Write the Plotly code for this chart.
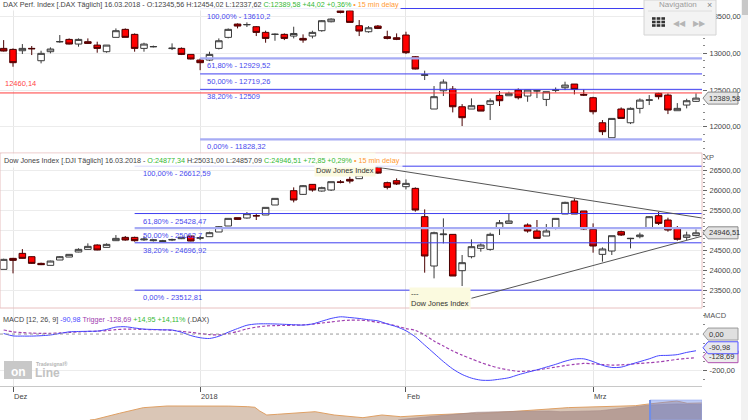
import pandas as pd
import plotly.graph_objects as go

# ---------------- data ----------------
holidays = ["2017-12-25", "2018-01-01"]
dates = [d.strftime("%Y-%m-%d") for d in pd.bdate_range("2017-11-30", "2018-03-16")]
dates = [d for d in dates if d not in holidays]

dax_open = [13067, 13053, 13035, 13067, 12899, 13022, 13155, 13189, 13126, 13158, 13112, 13022, 13217, 13326, 13258,
            13067, 13088, None, 13064, 13067, 12985, 12908, 12908, 13067, 13217, 13398, 13388, 13362, 13285, 13256,
            13258, 13235, 13203, 13235, 13308, 13430, 13580, 13580, 13376, 13294, 13371, 13226, 13212, 13249, 12953,
            12700, 12241, 12490, 12513, 12272, 12241, 12291, 12304, 12427, 12422, 12499, 12418, 12486, 12372, 12497,
            12531, 12581, 12440, 12395, 12054, 11850, 12241, 12054, 12250, 12360, 12454, 12431, 12218, 12295, 12345.56]
dax_high = [13180, 13067, 13126, 13099, 13035, 13081, 13249, 13203, 13203, 13203, 13158, 13112, 13339, 13339, 13271,
            13144, 13105, None, 13135, 13080, 12985, 12930, 13022, 13203, 13339, 13407, 13421, 13371, 13308, 13271,
            13271, 13362, 13258, 13308, 13453, 13476, 13598, 13598, 13453, 13371, 13385, 13308, 13271, 13294, 12962,
            12763, 12554, 12645, 12554, 12308, 12386, 12291, 12386, 12486, 12477, 12522, 12499, 12499, 12477, 12535,
            12613, 12581, 12508, 12408, 12091, 12113, 12263, 12263, 12386, 12431, 12463, 12454, 12322, 12381, 12454.02]
dax_low = [13025, 12817, 12990, 12976, 12863, 12999, 13144, 13121, 13090, 13130, 13008, 13008, 13217, 13217, 13022,
           13022, 13080, None, 13044, 12976, 12917, 12770, 12894, 13053, 13203, 13339, 13358, 13235, 13144, 13171,
           13180, 13203, 13144, 13203, 13294, 13421, 13544, 13421, 13235, 13280, 13330, 13190, 13180, 12990, 12781,
           12636, 12241, 12418, 12195, 12009, 12241, 12213, 12091, 12282, 12422, 12372, 12340, 12390, 12281, 12468,
           12499, 12440, 12418, 12168, 11886, 11850, 12113, 12036, 12181, 12295, 12372, 12172, 12218, 12250, 12337.62]
dax_close = [13031, 12872, 13067, 13062, 12999, 13058, 13160, 13126, 13189, 13135, 13067, 13112, 13308, 13217, 13067,
             13126, 13092, None, 13070, 12985, 12922, 12872, 12985, 13171, 13326, 13371, 13392, 13285, 13203, 13260,
             13203, 13270, 13180, 13285, 13444, 13466, 13557, 13421, 13303, 13348, 13339, 13203, 13190, 13008, 12786,
             12708, 12409, 12608, 12272, 12123, 12286, 12213, 12354, 12354, 12454, 12395, 12499, 12490, 12477, 12501,
             12567, 12508, 12431, 12204, 11932, 12113, 12113, 12250, 12363, 12365, 12409, 12227, 12250, 12354, 12389.58]

dow_open = [24033, 24308, 24433, 24350, 24183, 24133, 24267, 24341, 24467, 24533, 24642, 24583, 24750, 24833, 24833,
            24770, 24750, 24730, 24765, 24800, 24867, 24810, 24850, 24967, 25117, 25325, 25317, 25375, 25392, 25642,
            None, 26000, 25908, 26158, 25992, 26017, 26220, 26283, 26300, 26400, 26584, 26200, 26250, 26100, 26058,
            25350, 24117, 24900, 24908, 24000, 24350, 24558, 24533, 25058, 25183, None, 25142, 24992, 24867, 25058,
            25417, 25742, 25492, 25033, 24408, 24492, 24975, 24800, 24850, 25058, 25375, 25267, 25075, 24833, 24877.34]
dow_high = [24300, 24320, 24540, 24358, 24200, 24250, 24367, 24410, 24560, 24683, 24658, 24683, 24890, 24867, 24850,
            24860, 24790, 24770, 24800, 24840, 24870, 24867, 24975, 25117, 25308, 25325, 25467, 25433, 25583, 25808,
            None, 26083, 26142, 26167, 26100, 26225, 26267, 26350, 26460, 26617, 26608, 26225, 26308, 26283, 26083,
            25533, 24975, 25308, 24908, 24392, 24783, 24683, 24950, 25267, 25433, None, 25183, 25267, 25167, 25308,
            25725, 25808, 25492, 25183, 24583, 24875, 25000, 24820, 24950, 25367, 25467, 25325, 25117, 24975, 25031.00]
dow_low = [24033, 23933, 24300, 24170, 24140, 24133, 24267, 24341, 24460, 24530, 24510, 24580, 24745, 24750, 24725,
           24745, 24730, 24720, 24740, 24790, 24735, 24765, 24850, 24967, 25117, 25280, 25300, 25267, 25392, 25642,
           None, 25708, 25892, 25975, 25975, 25992, 26183, 26183, 26290, 26390, 26420, 26033, 26142, 26033, 25475,
           23950, 23808, 24683, 23867, 23617, 24308, 24475, 24500, 24892, 25183, None, 24950, 24808, 24867, 25033,
           25417, 25417, 25017, 24450, 24225, 24392, 24867, 24558, 24808, 25058, 25142, 24975, 24750, 24767, 24857.09]
dow_close = [24283, 24258, 24308, 24183, 24150, 24241, 24350, 24408, 24533, 24608, 24517, 24658, 24808, 24767, 24750,
             24790, 24770, 24746, 24780, 24837, 24742, 24825, 24950, 25100, 25308, 25283, 25425, 25370, 25583, 25808,
             None, 25767, 26125, 26017, 26075, 26225, 26210, 26240, 26392, 26610, 26439, 26083, 26167, 26183, 25517,
             24367, 24950, 24915, 23867, 24200, 24600, 24642, 24908, 25200, 25242, None, 24992, 24808, 24992, 25308,
             25708, 25417, 25042, 24617, 24542, 24875, 24892, 24808, 24892, 25350, 25183, 25017, 24783, 24892, 24946.51]

macd_line = [3, -10, -11, -11, -9, -5, 3, 12, 14, 15, 16, 25, 38, 40, 33, 27, 25, 23, 22, 10, -8, -20, -24, -12, 10,
             30, 48, 55, 56, 55, 53, 51, 49, 55, 70, 85, 94, 90, 85, 78, 72, 55, 40, 18, -15, -60, -105, -150, -190,
             -220, -240, -251, -252, -246, -238, -222, -208, -195, -180, -165, -148, -136, -135, -150, -170, -182,
             -180, -165, -150, -135, -118, -116, -112, -100, -90.98]
macd_trigger = [22, 12, 8, 5, 4, 4, 6, 9, 12, 14, 16, 19, 24, 27, 27, 25, 24, 23, 20, 15, 9, 3, -3, -4, 3, 14, 28,
                38, 44, 46, 47, 48, 50, 54, 60, 66, 72, 76, 76, 72, 64, 56, 44, 30, 20, -5, -38, -65, -92, -115,
                -135, -155, -172, -186, -196, -203, -202, -196, -188, -180, -172, -165, -160, -162, -166, -169, -168,
                -164, -160, -156, -152, -145, -138, -133, -128.69]

dax_fib_pct = ["100,00%", "61,80%", "50,00%", "38,20%", "0,00%"]
dax_fib_val = [13610.2, 12929.52, 12719.26, 12509, 11828.32]
dax_fib_txt = ["13610,2", "12929,52", "12719,26", "12509", "11828,32"]
dax_fib_soft = [False, True, False, False, True]
dax_fib_start = "2018-01-02"
dow_fib_pct = ["100,00%", "61,80%", "50,00%", "38,20%", "0,00%"]
dow_fib_val = [26612.59, 25428.47, 25062.7, 24696.92, 23512.81]
dow_fib_txt = ["26612,59", "25428,47", "25062,7", "24696,92", "23512,81"]
dow_fib_soft = [False, False, True, False, False]
dow_fib_start = "2017-12-20"
dax_ref_level = 12460.14

dow_trend_down = [("2018-01-29", 26584), ("2018-03-16", 25340)]
dow_trend_up = [("2018-02-12", 23310), ("2018-03-16", 24822)]

month_dates = ["2017-12-01", "2018-01-02", "2018-02-01", "2018-03-01"]
month_labels = ["Dez", "2018", "Feb", "Mrz"]
dax_ticks = [12000, 12500, 13000, 13500]
dow_ticks = [23500, 24000, 24500, 25000, 25500, 26000, 26500]
dow_hidden_tick = 25000          # covered by the last-price marker
macd_ticks = [-200]

dax_change = ["+44,02", "+0,36%"]
dow_change = ["+72,85", "+0,29%"]
macd_change = ["+14,95", "+14,11%"]

nav_pos = [12.8, 13.5, 17.0, 20.4, 23.8, 28.5, 32.6, 35.3, 36.3, 37.0, 38.0, 39.5, 43.4, 44.9, 47.6, 51.7, 54.4,
           57.1, 61.1, 67.2, 67.9, 72.0, 78.2, 81.0, 84.9, 88.3, 90.5, 92.4, 94.0, 96.4, 97.9, 99.6, 100.0]
nav_dax = [0, 0.5, 6.7, 12.3, 14.0, 14.3, 13.9, 13.3, 12.7, 9.0, 5.0, 5.7, 7.7, 8.3, 5.0, 2.3, 5.0, 3.3, 5.0, 6.7,
           6.0, 7.7, 11.0, 12.4, 13.3, 13.8, 14.3, 16.0, 17.3, 19.0, 16.7, 17.3, 17.0]
nav_pos2 = [56.7, 57.1, 61.1, 67.9, 72.5, 78.2, 79.8, 85.5, 88.3, 92.6, 96.4, 99.6, 100.0]
nav_dark = [0, 0.5, 3.3, 7.7, 8.5, 9.0, 8.3, 9.3, 11.5, 15.0, 16.0, 16.0, 15.5]
nav_window = [92.6, 100.0]

# ---------------- helpers ----------------
W, H = 748, 420
XD = 702 / W
X_LO, X_HI = -0.39, 74.64
pos = {d: i for i, d in enumerate(dates)}
xi = list(range(len(dates)))


def PX(p):
    return p / W


def PY(p):
    return 1 - p / H


def de(v, nd=2):
    return f"{v:.{nd}f}".replace(".", ",")


FONT = "Liberation Sans, Arial, sans-serif"
BLUE = "#3f3ff0"
SOFT_BLUE = "#a7acf4"
GREEN = "#33b833"
ORANGE = "#ff9933"
GREY = "#444444"

fig = go.Figure()


def add_candles(o, h, l, c, xa, ya):
    keep = [i for i in range(len(o)) if o[i] is not None]
    fig.add_trace(go.Candlestick(
        x=[xi[i] for i in keep], open=[o[i] for i in keep], high=[h[i] for i in keep],
        low=[l[i] for i in keep], close=[c[i] for i in keep],
        increasing=dict(line=dict(color="#3a3a3a", width=1), fillcolor="#ffffff"),
        decreasing=dict(line=dict(color="#4a0000", width=1), fillcolor="#ff0000"),
        whiskerwidth=0, xaxis=xa, yaxis=ya, showlegend=False, hoverinfo="skip"))


add_candles(dax_open, dax_high, dax_low, dax_close, "x", "y")
add_candles(dow_open, dow_high, dow_low, dow_close, "x2", "y2")

fig.add_trace(go.Scatter(x=xi, y=macd_trigger, mode="lines", xaxis="x3", yaxis="y3",
                         line=dict(color="#a040b0", width=1.2, dash="3px,2px", shape="spline", smoothing=0.8),
                         showlegend=False, hoverinfo="skip"))
fig.add_trace(go.Scatter(x=xi, y=macd_line, mode="lines", xaxis="x3", yaxis="y3",
                         line=dict(color="#4646ff", width=1, shape="spline", smoothing=0.8),
                         showlegend=False, hoverinfo="skip"))

fig.add_trace(go.Scatter(x=nav_pos, y=nav_dax, mode="lines", fill="tozeroy", xaxis="x4", yaxis="y4",
                         line=dict(color="#dfa064", width=1), fillcolor="rgba(214,192,174,0.9)",
                         showlegend=False, hoverinfo="skip"))
fig.add_trace(go.Scatter(x=nav_pos2, y=nav_dark, mode="lines", fill="tozeroy", xaxis="x4", yaxis="y4",
                         line=dict(color="#a88c88", width=0.6), fillcolor="rgba(176,150,144,0.85)",
                         showlegend=False, hoverinfo="skip"))

tickpos = [pos[d] for d in month_dates]
xcommon = dict(range=[X_LO, X_HI], domain=[0, XD], showgrid=True, gridcolor="#e6e6e6", gridwidth=1,
               tickmode="array", tickvals=tickpos, showticklabels=False, zeroline=False,
               rangeslider=dict(visible=False), fixedrange=True)
ycommon = dict(side="right", showgrid=True, gridcolor="#ececec", zeroline=False, ticks="outside", ticklen=4,
               tickcolor="#666", tickfont=dict(size=7.5, color=GREY, family=FONT), tickmode="array",
               ticklabelstandoff=1, fixedrange=True)

fig.update_layout(
    width=W, height=H, margin=dict(l=0, r=0, t=0, b=0), paper_bgcolor="white", plot_bgcolor="white",
    font=dict(family=FONT, size=8, color=GREY), showlegend=False, boxgap=0.3, boxgroupgap=0,
    xaxis=dict(**xcommon, anchor="y"),
    xaxis2=dict(**xcommon, anchor="y2", matches="x"),
    xaxis3=dict(**{**xcommon, "ticks": "outside", "ticklen": 5, "tickcolor": "#555"}, anchor="y3", matches="x",
                showline=True, linecolor="#c8c8c8"),
    xaxis4=dict(domain=[0, XD], range=[0, 100], anchor="y4", visible=False, fixedrange=True),
    yaxis=dict(**ycommon, domain=[PY(153), 1], range=[11642, 13726], anchor="x", tickvals=dax_ticks,
               ticktext=[de(v) for v in dax_ticks],
               minor=dict(ticks="outside", ticklen=2, tickcolor="#888", tickmode="linear", tick0=0, dtick=100,
                          showgrid=False)),
    yaxis2=dict(**ycommon, domain=[PY(308), PY(153)], range=[23067, 26942], anchor="x2", tickvals=dow_ticks,
                ticktext=["" if v == dow_hidden_tick else de(v) for v in dow_ticks],
                minor=dict(ticks="outside", ticklen=2, tickcolor="#888", tickmode="linear", tick0=0, dtick=100,
                           showgrid=False)),
    yaxis3=dict(**ycommon, domain=[PY(386), PY(308)], range=[-283, 142], anchor="x3", tickvals=macd_ticks,
                ticktext=[de(v) for v in macd_ticks],
                minor=dict(ticks="outside", ticklen=2, tickcolor="#888", tickmode="linear", tick0=0, dtick=50,
                           showgrid=False)),
    yaxis4=dict(domain=[0, 20 / H], range=[0, 20], anchor="x4", visible=False, fixedrange=True),
)

shapes = []
ann = []


def A(text, x, y, xref="paper", yref="paper", xa="left", ya="middle", size=7.5, color=GREY, **kw):
    d = dict(text=text, x=x, y=y, xref=xref, yref=yref, xanchor=xa, yanchor=ya, showarrow=False,
             font=dict(size=size, color=color, family=FONT))
    d.update(kw)
    ann.append(d)


# reference line DAX
shapes.append(dict(type="line", xref="x", yref="y", x0=X_LO, x1=X_HI, y0=dax_ref_level, y1=dax_ref_level,
                   line=dict(color="#ff3b3b", width=1)))
A(de(dax_ref_level), PX(3), dax_ref_level, yref="y", ya="bottom", color="#ff4545", yshift=3)

# Fibonacci lines
for pct, v, t, soft in zip(dax_fib_pct, dax_fib_val, dax_fib_txt, dax_fib_soft):
    shapes.append(dict(type="line", xref="x", yref="y", x0=pos[dax_fib_start], x1=X_HI, y0=v, y1=v,
                       line=dict(color=SOFT_BLUE if soft else BLUE, width=2.2 if soft else 1)))
    A(f"{pct} - {t}", pos[dax_fib_start], v, xref="x", yref="y", ya="top", color="#4848ee", xshift=5, yshift=-1)
for pct, v, t, soft in zip(dow_fib_pct, dow_fib_val, dow_fib_txt, dow_fib_soft):
    shapes.append(dict(type="line", xref="x2", yref="y2", x0=pos[dow_fib_start], x1=X_HI, y0=v, y1=v,
                       line=dict(color=SOFT_BLUE if soft else BLUE, width=2.2 if soft else 1)))
    A(f"{pct} - {t}", pos[dow_fib_start], v, xref="x2", yref="y2", ya="top", color="#4848ee", xshift=6, yshift=-1)

# trend lines
for (d0, v0), (d1, v1) in (dow_trend_down, dow_trend_up):
    x0, x1 = pos[d0], pos[d1]
    yend = v0 + (v1 - v0) * (X_HI - x0) / (x1 - x0)
    shapes.append(dict(type="line", xref="x2", yref="y2", x0=x0, x1=X_HI, y0=v0, y1=yend,
                       line=dict(color="#555555", width=1)))
A("Dow Jones Index", pos[dow_trend_down[0][0]], dow_trend_down[0][1], xref="x2", yref="y2", xa="right",
  ya="middle", align="left", valign="bottom", height=21, bgcolor="#fbfadf", yshift=3, xshift=-2, color="#333")
A("---<br>Dow Jones Index", pos[dow_trend_up[0][0]], dow_trend_up[0][1], xref="x2", yref="y2", xa="right",
  ya="middle", align="left", bgcolor="#fbfadf", color="#333")

# MACD zero line
shapes.append(dict(type="line", xref="x3", yref="y3", x0=X_LO, x1=X_HI, y0=0, y1=0,
                   line=dict(color="#999999", width=1, dash="dot")))

# Dow panel frame
shapes.append(dict(type="rect", xref="paper", yref="paper", x0=0, x1=XD, y0=PY(308), y1=PY(153),
                   line=dict(color="#e8c0c0", width=1), layer="above"))

# headers
dax_hdr = (f"DAX Perf. Index [.DAX Täglich] 16.03.2018 - O:{de(dax_open[-1])} H:{de(dax_high[-1])} "
           f"L:{de(dax_low[-1])} <span style='color:{GREEN}'>C:{de(dax_close[-1])} {dax_change[0]} {dax_change[1]}</span>"
           f" <span style='color:{ORANGE}'>• 15 min delay</span>")
dow_hdr = (f"Dow Jones Index [.DJI Täglich] 16.03.2018 - <span style='color:{GREEN}'>O:{de(dow_open[-1])}</span> "
           f"H:{de(dow_high[-1])} L:{de(dow_low[-1])} <span style='color:{GREEN}'>C:{de(dow_close[-1])} "
           f"{dow_change[0]} {dow_change[1]}</span> <span style='color:{ORANGE}'>• 15 min delay</span>")
macd_hdr = (f"MACD [12, 26, 9] <span style='color:#4646ff'>{de(macd_line[-1])}</span> "
            f"<span style='color:#a040b0'>Trigger {de(macd_trigger[-1])}</span> "
            f"<span style='color:{GREEN}'>{macd_change[0]} {macd_change[1]}</span> (.DAX)")
A(dax_hdr, PX(1), PY(5), size=7.2, bgcolor="rgba(255,255,255,0.92)", borderpad=1)
A(dow_hdr, PX(1), PY(160), size=7.2, bgcolor="rgba(255,255,255,0.8)", borderpad=2)
A(macd_hdr, PX(1), PY(319), size=7.2)

# axis captions
A("XP", PX(702), PY(157), color="#555")
A("MACD", PX(702), PY(315), color="#555")
for d, lab in zip(month_dates, month_labels):
    A(lab, pos[d], PY(396), xref="x3", color=GREY, xshift=-1)


# value markers on the right axis
def marker(yref, val, text, fill, border, shift=0):
    shapes.append(dict(type="path", xref="paper", yref=yref, xsizemode="pixel", ysizemode="pixel", xanchor=XD,
                       yanchor=val, path=f"M 1 {shift} L 6 {6 + shift} L 36 {6 + shift} L 36 {shift - 6} "
                                         f"L 6 {shift - 6} Z", fillcolor=fill,
                       line=dict(color=border, width=1), layer="above"))
    A(text, PX(707), val, yref=yref, color="#333", yshift=shift)


marker("y", dax_close[-1], de(dax_close[-1]), "#e4e4e4", "#8a8a8a")
marker("y2", dow_close[-1], de(dow_close[-1]), "#e4e4e4", "#8a8a8a")
marker("y3", 0, de(0), "#e0e0e0", "#9a9a9a")
marker("y3", macd_trigger[-1], de(macd_trigger[-1]), "#ececec", "#b050b0", shift=1)
marker("y3", macd_line[-1], de(macd_line[-1]), "#e8e8ee", "#5050ff", shift=3)

# navigator window
shapes.append(dict(type="rect", xref="x4", yref="paper", x0=nav_window[0], x1=nav_window[1], y0=0, y1=PY(400),
                   fillcolor="rgba(110,140,230,0.45)", line=dict(color="rgba(150,170,240,0.6)", width=1),
                   layer="above"))
shapes.append(dict(type="line", xref="x4", yref="paper", x0=nav_window[0], x1=nav_window[0], y0=0, y1=PY(400),
                   line=dict(color="#6f8ee8", width=2), layer="above"))

# scrollbar
shapes.append(dict(type="rect", xref="paper", yref="paper", x0=PX(741), x1=1, y0=0, y1=1,
                   fillcolor="#f2f2f2", line=dict(width=0), layer="above"))
shapes.append(dict(type="rect", xref="paper", yref="paper", x0=PX(742), x1=1, y0=PY(15), y1=1,
                   fillcolor="#c8c8c8", line=dict(width=0), layer="above"))

# navigation widget
shapes.append(dict(type="rect", xref="paper", yref="paper", x0=PX(644), x1=PX(716), y0=PY(35), y1=1,
                   fillcolor="#f3f3f3", line=dict(color="#d4d4d4", width=1), layer="above"))
shapes.append(dict(type="line", xref="paper", yref="paper", x0=PX(648), x1=PX(712), y0=PY(11), y1=PY(11),
                   line=dict(color="#dedede", width=1), layer="above"))
for r in range(3):
    for c in range(3):
        shapes.append(dict(type="rect", xref="paper", yref="paper", x0=PX(652 + c * 4.7), x1=PX(655.6 + c * 4.7),
                           y0=PY(19.8 + r * 3.5), y1=PY(17.2 + r * 3.5), fillcolor="#333333",
                           line=dict(width=0), layer="above"))
A("Navigation", PX(657), PY(5), size=8, color="#9c9c9c")
A("×", PX(705), PY(5), size=9, color="#888")
A("◀◀", PX(671), PY(23), size=8, color="#b5b5b5")
A("▶▶", PX(691), PY(23), size=8, color="#b5b5b5")

# logo
shapes.append(dict(type="rect", xref="paper", yref="paper", x0=PX(4), x1=PX(32), y0=PY(379), y1=PY(361),
                   fillcolor="#c8c8c8", line=dict(width=0)))
A("<b>on</b>", PX(18), PY(372), xa="center", size=12, color="#ffffff")
A("<b>Line</b>", PX(33), PY(373), size=12, color="#c2c2c2")
A("<b>Tradesignal®</b>", PX(34), PY(364), size=5, color="#b4b4b4")

fig.update_layout(shapes=shapes, annotations=ann)
fig.write_html("out.html", config={"displayModeBar": False},
               post_script="document.body.style.margin='0px';")
